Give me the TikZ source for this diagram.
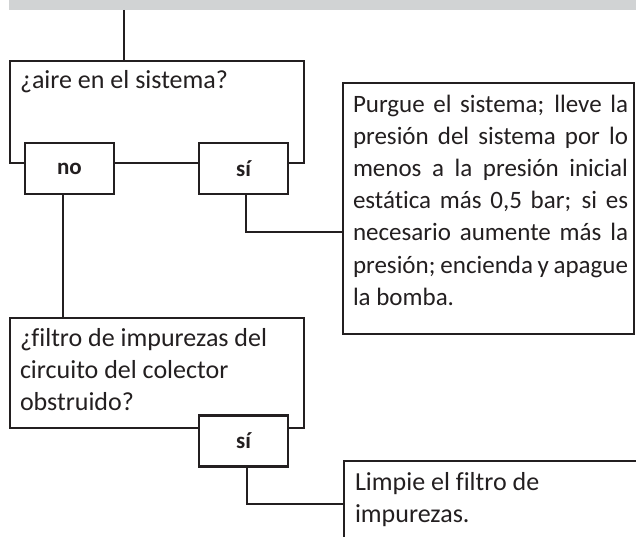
\documentclass[tikz,border=0pt]{standalone}
\usepackage{fontspec}
\setmainfont{Carlito}[Ligatures=NoCommon]
\definecolor{ln}{HTML}{231F20}
\definecolor{bandc}{HTML}{D1D3D4}
\begin{document}
\begin{tikzpicture}[x=1bp,y=-1bp,
  every node/.style={inner sep=0pt, outer sep=0pt},
  box/.style={draw=ln, line width=2.8bp, fill=white},
  conn/.style={draw=ln, line width=2.8bp},
  txt/.style={anchor=base west, font=\fontsize{26bp}{32bp}\selectfont, text=ln},
  lbl/.style={font=\bfseries\fontsize{23bp}{28bp}\selectfont, text=ln, minimum width=89bp, minimum height=51bp},
]
\useasboundingbox (0,0) rectangle (636,537);
% gray band
\node[fill=bandc, minimum width=627bp, minimum height=10bp, anchor=north west] (band) at (9,0) {};
% question boxes
\node[box, minimum width=294bp, minimum height=102bp, anchor=north west] (q1) at (10,61) {};
\node[txt] (q1t) at (20,89) {¿aire en el sistema?};
\node[box, minimum width=294bp, minimum height=110bp, anchor=north west] (q2) at (10,318) {};
\node[txt] (q2t) at (20,346) {\parbox[t]{285bp}{\raggedright ¿filtro de impurezas del\\circuito del colector\\obstruido?}};
% answer boxes
\node[box, lbl] (no1) at (69.5,168.5) {no};
\node[box, lbl] (si1) at (243.5,168.5) {sí};
\node[box, lbl] (si2) at (243.5,441) {sí};
% action boxes
\node[box, minimum width=291bp, minimum height=251bp, anchor=north west] (a1) at (343,83) {};
\node[txt, font=\fontsize{25bp}{32bp}\selectfont] (a1t) at (353,113) {\parbox[t]{275bp}{%
\makebox[\linewidth][s]{Purgue el sistema; lleve la}\\
\makebox[\linewidth][s]{presión del sistema por lo}\\
\makebox[\linewidth][s]{menos a la presión inicial}\\
\makebox[\linewidth][s]{estática más 0,5 bar; si es}\\
\makebox[\linewidth][s]{necesario aumente más la}\\
\makebox[\linewidth][s]{presión; encienda y apague}\\
la bomba.}};
\node[minimum width=292bp, minimum height=76bp, anchor=north west] (a2) at (344,461) {};
\draw[conn] (a2.north east) -- (a2.north west) -- (a2.south west);
\node[txt] (a2t) at (355,490) {\parbox[t]{270bp}{\raggedright Limpie el filtro de\\impurezas.}};
% connectors
\coordinate (tl) at (124,0);
\draw[conn] (band.south -| tl) -- (q1.north -| tl);
\coordinate (nx) at (63,0);
\draw[conn] (no1.south -| nx) -- (q2.north -| nx);
\coordinate (s1turn) at (246,232);
\draw[conn] (si1.south -| s1turn) -- (s1turn) -- (s1turn -| a1.west);
\coordinate (s2turn) at (247,504);
\draw[conn] (si2.south -| s2turn) -- (s2turn) -- (s2turn -| a2.west);
\end{tikzpicture}
\end{document}
